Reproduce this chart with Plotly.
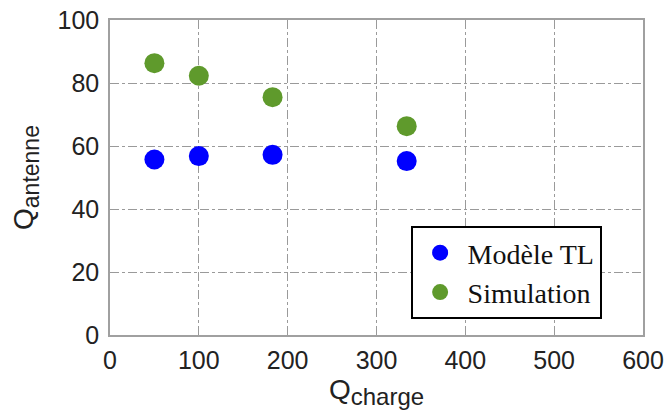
import plotly.graph_objects as go

q_charge = [50, 100, 183, 334]
q_tl = [55.7, 56.8, 57.2, 55.2]
q_sim = [86.3, 82.3, 75.5, 66.3]
x_ticks = [0, 100, 200, 300, 400, 500, 600]
y_ticks = [0, 20, 40, 60, 80, 100]

fig = go.Figure()
fig.add_trace(go.Scatter(x=q_charge, y=q_tl, mode="markers", name="Modèle TL",
                         marker=dict(color="#0000ff", size=20, line=dict(width=0))))
fig.add_trace(go.Scatter(x=q_charge, y=q_sim, mode="markers", name="Simulation",
                         marker=dict(color="#5f9a2c", size=20, line=dict(width=0))))

axis_common = dict(showline=True, linecolor="#a0a0a0", linewidth=1.5, mirror=True,
                   showgrid=True, gridcolor="#9a9a9a", griddash="dashdot", gridwidth=1,
                   zeroline=False, ticks="", automargin=False,
                   tickfont=dict(family="Liberation Sans, Arial", size=25, color="#222"))

title_font = dict(family="Liberation Sans, Arial", size=28, color="#222")
fig.update_xaxes(range=[0, 600], tickvals=x_ticks, ticklabelstandoff=2, **axis_common,
                 title=dict(text="Q<sub><span style='font-size:24px'>charge</span></sub>",
                            standoff=6, font=title_font))
fig.update_yaxes(range=[0, 100], tickvals=y_ticks, ticklabelstandoff=4, **axis_common,
                 title=dict(text="Q<sub><span style='font-size:23px'>antenne</span></sub>",
                            standoff=16, font=title_font))

fig.update_layout(
    width=665, height=418,
    margin=dict(l=110, r=22, t=20, b=83),
    plot_bgcolor="white", paper_bgcolor="white",
    legend=dict(x=0.564, y=0.346, xanchor="left", yanchor="top",
                bordercolor="black", borderwidth=2, bgcolor="white",
                font=dict(family="Liberation Serif, Times New Roman", size=28, color="#111"),
                itemwidth=45, tracegroupgap=0),
)
fig.write_html("out.html", config={"displayModeBar": False},
               post_script="document.body.style.margin='0';")
